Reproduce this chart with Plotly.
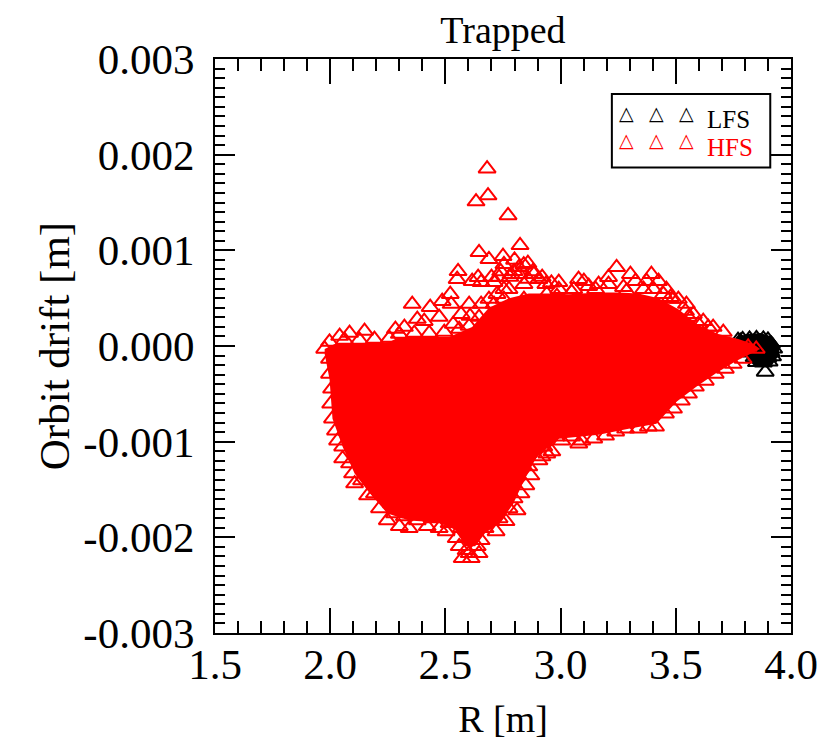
import plotly.graph_objects as go

# HFS dense core (centres of the packed triangles)
hfs_top_r = [1.976, 2.019, 2.257, 2.300, 2.516, 2.616, 2.689, 2.776, 2.862, 2.949, 3.035,
             3.165, 3.252, 3.338, 3.425, 3.511, 3.598, 3.684, 3.771, 3.836, 3.866]
hfs_top = [-0.031e-3, 0.021e-3, 0.042e-3, 0.094e-3, 0.094e-3, 0.198e-3, 0.400e-3, 0.500e-3,
           0.550e-3, 0.550e-3, 0.540e-3, 0.560e-3, 0.560e-3, 0.550e-3, 0.500e-3, 0.385e-3,
           0.219e-3, 0.125e-3, 0.073e-3, 0.021e-3, -0.031e-3]
hfs_bot_r = [1.976, 1.997, 2.010, 2.054, 2.106, 2.162, 2.248, 2.343, 2.473, 2.547, 2.586, 2.629,
             2.672, 2.733, 2.793, 2.841, 2.897, 2.992, 3.165, 3.295, 3.416, 3.503, 3.589, 3.676,
             3.762, 3.849]
hfs_bot = [-0.083e-3, -0.344e-3, -0.760e-3, -1.052e-3, -1.333e-3, -1.510e-3, -1.750e-3,
           -1.823e-3, -1.844e-3, -1.927e-3, -2.094e-3, -2.094e-3, -1.958e-3, -1.854e-3,
           -1.656e-3, -1.406e-3, -1.156e-3, -0.969e-3, -0.927e-3, -0.865e-3, -0.813e-3,
           -0.583e-3, -0.427e-3, -0.281e-3, -0.156e-3, -0.052e-3]

# HFS single triangles (outliers and the ragged edges)
hfs_r = [2.681, 2.685, 2.633, 2.772, 2.824, 2.646, 2.689, 2.750, 2.858, 2.555, 2.551, 2.356,
         2.434, 2.378, 2.486, 2.521, 2.525, 2.642, 2.655, 2.616, 2.733, 2.283, 2.041, 2.534,
         2.607, 2.655, 2.936, 2.984, 3.243, 3.394, 3.325, 3.048, 3.122, 3.165, 3.477, 3.542,
         3.598, 2.798, 2.884, 2.841, 2.754, 2.711, 2.992, 3.078, 3.208, 3.286, 3.360, 3.425,
         3.446, 3.511, 3.555, 3.641, 3.706,
         2.754, 2.785, 2.819, 2.906, 2.940, 2.724, 2.776, 2.841, 2.689, 2.603, 2.568, 2.473,
         2.408, 2.322, 2.149, 2.084,
         2.800, 2.840, 2.880, 2.920, 2.960, 2.820, 2.860, 2.780, 2.740, 2.700,
         2.992, 3.057, 3.101, 3.152, 3.208, 3.273, 3.303, 3.373, 3.403, 3.459, 3.490, 3.546,
         3.576, 3.619, 3.662,
         2.054, 2.054, 2.097, 2.106, 2.162, 2.248, 2.300, 2.343, 2.421, 2.503, 2.547, 2.590,
         2.612, 2.573, 2.655, 2.720, 2.763, 2.811, 2.849, 2.871, 2.919, 2.962, 3.005, 3.048,
         3.079,
         2.084, 2.136, 2.192, 2.214, 2.279, 2.322, 2.378, 2.387, 2.452, 2.473, 2.516, 2.538,
         2.568, 2.603, 2.638, 2.672, 2.689, 2.733, 2.776, 2.798, 2.828, 2.862, 2.906, 2.940,
         2.266, 2.352, 2.430, 2.495, 2.625, 2.668, 2.560, 2.603, 2.646,
         2.927, 2.979, 3.092, 3.144, 3.195, 3.239, 3.282, 3.338, 3.381, 3.412, 3.455, 3.490,
         3.524, 3.555, 3.585, 3.628, 3.671, 3.715, 3.749, 3.792,
         1.997, 1.997, 2.006, 2.002, 2.010, 2.023, 2.032, 1.976,
         1.997, 2.062, 2.127, 2.192, 2.257, 2.300, 2.365, 2.430, 2.495, 2.560, 2.603, 2.646,
         2.711, 2.754, 3.814, 3.849]
hfs_drift = [1.854e-3, 1.573e-3, 1.510e-3, 1.365e-3, 1.052e-3, 0.979e-3, 0.906e-3, 0.938e-3,
             0.865e-3, 0.781e-3, 0.698e-3, 0.438e-3, 0.406e-3, 0.281e-3, 0.469e-3, 0.542e-3,
             0.438e-3, 0.719e-3, 0.667e-3, 0.677e-3, 0.719e-3, 0.177e-3, 0.104e-3, 0.229e-3,
             0.313e-3, 0.438e-3, 0.646e-3, 0.521e-3, 0.823e-3, 0.750e-3, 0.677e-3, 0.563e-3,
             0.625e-3, 0.646e-3, 0.510e-3, 0.365e-3, 0.229e-3, 0.781e-3, 0.750e-3, 0.646e-3,
             0.594e-3, 0.667e-3, 0.594e-3, 0.698e-3, 0.646e-3, 0.573e-3, 0.594e-3, 0.677e-3,
             0.542e-3, 0.490e-3, 0.302e-3, 0.198e-3, 0.146e-3,
             0.854e-3, 0.750e-3, 0.823e-3, 0.698e-3, 0.542e-3, 0.542e-3, 0.594e-3, 0.490e-3,
             0.490e-3, 0.438e-3, 0.333e-3, 0.302e-3, 0.260e-3, 0.198e-3, 0.156e-3, 0.135e-3,
             0.900e-3, 0.850e-3, 0.780e-3, 0.720e-3, 0.660e-3, 0.750e-3, 0.700e-3, 0.720e-3,
             0.780e-3, 0.720e-3,
             0.667e-3, 0.594e-3, 0.677e-3, 0.594e-3, 0.719e-3, 0.615e-3, 0.750e-3, 0.677e-3,
             0.594e-3, 0.594e-3, 0.490e-3, 0.438e-3, 0.333e-3, 0.260e-3, 0.198e-3,
             -1.052e-3, -1.177e-3, -1.333e-3, -1.438e-3, -1.563e-3, -1.823e-3, -1.885e-3,
             -1.906e-3, -1.885e-3, -1.938e-3, -2.010e-3, -2.135e-3, -2.219e-3, -2.219e-3,
             -2.031e-3, -1.938e-3, -1.833e-3, -1.719e-3, -1.458e-3, -1.354e-3, -1.156e-3,
             -1.104e-3, -0.990e-3, -0.948e-3, -1.021e-3,
             -1.229e-3, -1.406e-3, -1.542e-3, -1.698e-3, -1.750e-3, -1.781e-3, -1.823e-3,
             -1.719e-3, -1.802e-3, -1.906e-3, -1.854e-3, -1.750e-3, -1.906e-3, -2.010e-3,
             -2.094e-3, -1.906e-3, -1.823e-3, -1.802e-3, -1.698e-3, -1.594e-3, -1.542e-3,
             -1.260e-3, -1.198e-3, -1.125e-3,
             -1.646e-3, -1.698e-3, -1.698e-3, -1.750e-3, -1.802e-3, -1.719e-3, -2.094e-3,
             -2.167e-3, -2.167e-3,
             -1.052e-3, -0.948e-3, -0.990e-3, -0.969e-3, -0.938e-3, -0.896e-3, -0.865e-3,
             -0.865e-3, -0.844e-3, -0.844e-3, -0.708e-3, -0.656e-3, -0.573e-3, -0.500e-3,
             -0.427e-3, -0.365e-3, -0.292e-3, -0.240e-3, -0.188e-3, -0.135e-3,
             -0.135e-3, -0.292e-3, -0.448e-3, -0.604e-3, -0.760e-3, -0.885e-3, -0.990e-3,
             -0.031e-3,
             0.042e-3, 0.063e-3, 0.063e-3, 0.073e-3, 0.083e-3, 0.125e-3, 0.135e-3, 0.135e-3,
             0.146e-3, 0.177e-3, 0.208e-3, 0.302e-3, 0.438e-3, 0.490e-3, -0.010e-3, -0.031e-3]

# LFS particles: packed blob outline plus single triangles
lfs_core_r = [3.762, 3.814, 3.870, 3.922, 3.948, 3.948, 3.918, 3.844, 3.814, 3.779]
lfs_core = [0.094e-3, 0.125e-3, 0.135e-3, 0.094e-3, 0.010e-3, -0.094e-3, -0.198e-3,
            -0.219e-3, -0.135e-3, -0.010e-3]
lfs_r = [3.770, 3.780, 3.790, 3.820, 3.850, 3.880, 3.900,
         3.800, 3.830, 3.860, 3.890, 3.915,
         3.810, 3.840, 3.870, 3.900, 3.925,
         3.830, 3.860, 3.890, 3.915,
         3.840, 3.870, 3.900, 3.920,
         3.850, 3.880, 3.905,
         3.888]
lfs_drift = [0.060e-3, 0.050e-3, 0.070e-3, 0.075e-3, 0.080e-3, 0.075e-3, 0.065e-3,
             0.030e-3, 0.030e-3, 0.035e-3, 0.030e-3, 0.020e-3,
             -0.020e-3, -0.020e-3, -0.020e-3, -0.020e-3, -0.030e-3,
             -0.070e-3, -0.070e-3, -0.070e-3, -0.070e-3,
             -0.120e-3, -0.120e-3, -0.120e-3, -0.110e-3,
             -0.170e-3, -0.175e-3, -0.165e-3,
             -0.271e-3]

x_ticks = [1.5, 2.0, 2.5, 3.0, 3.5, 4.0]
y_ticks = [-0.003, -0.002, -0.001, 0.0, 0.001, 0.002, 0.003]
y_labels = ["-0.003", "-0.002", "-0.001", "0.000", "0.001", "0.002", "0.003"]

serif = "Liberation Serif, Times New Roman, serif"
red = "#ff0000"

fig = go.Figure()

fig.add_trace(go.Scatter(x=lfs_core_r, y=lfs_core, mode="lines", fill="toself",
                         fillcolor="black", line=dict(width=0, color="black"),
                         showlegend=False))
fig.add_trace(go.Scatter(x=lfs_r, y=lfs_drift, mode="markers",
                         marker=dict(symbol="triangle-up-open", size=15, color="black",
                                     line=dict(width=2, color="black")),
                         showlegend=False))

# packed region: polygon from upper and lower envelope
core_x = hfs_top_r + hfs_bot_r[::-1]
core_y = hfs_top + hfs_bot[::-1]
fig.add_trace(go.Scatter(x=core_x, y=core_y, mode="lines", fill="toself",
                         fillcolor=red, line=dict(width=0, color=red), showlegend=False))

fig.add_trace(go.Scatter(x=hfs_r, y=hfs_drift, mode="markers",
                         marker=dict(symbol="triangle-up-open", size=15, color=red,
                                     line=dict(width=2, color=red)),
                         showlegend=False))

axis_common = dict(showline=True, linewidth=2, linecolor="black", mirror="ticks",
                   ticks="inside", tickwidth=2, tickcolor="black", showgrid=False,
                   zeroline=False, tickfont=dict(family=serif, size=43, color="black"))

fig.update_xaxes(range=[1.5, 4.0], tickvals=x_ticks, ticktext=["%.1f" % v for v in x_ticks],
                 ticklen=25, ticklabelstandoff=-8,
                 minor=dict(dtick=0.1, ticks="inside", ticklen=12, tickwidth=2,
                            tickcolor="black"),
                 title=dict(text="R [m]", standoff=19,
                            font=dict(family=serif, size=38, color="black")),
                 **axis_common)
fig.update_yaxes(range=[-0.003, 0.003], tickvals=y_ticks, ticktext=y_labels,
                 ticklen=20, ticklabelstandoff=10,
                 minor=dict(dtick=0.0001, ticks="inside", ticklen=10, tickwidth=2,
                            tickcolor="black"),
                 title=dict(text="Orbit drift [m]", standoff=0,
                            font=dict(family=serif, size=43, color="black")),
                 **axis_common)

# legend box drawn by hand (three symbols per entry)
fig.add_shape(type="rect", xref="paper", yref="paper", x0=0.689, x1=0.964, y0=0.811, y1=0.939,
              line=dict(color="black", width=2), fillcolor="white", layer="above")
for lx in [0.731, 0.783, 0.835]:
    fig.add_annotation(x=lx, y=0.928, xref="paper", yref="paper", text="△", showarrow=False,
                       font=dict(family="DejaVu Sans", size=19, color="black"))
    fig.add_annotation(x=lx, y=0.881, xref="paper", yref="paper", text="△", showarrow=False,
                       font=dict(family="DejaVu Sans", size=19, color=red))
fig.add_annotation(x=0.851, y=0.921, xref="paper", yref="paper", text="LFS", showarrow=False,
                   xanchor="left", font=dict(family=serif, size=25, color="black"))
fig.add_annotation(x=0.851, y=0.872, xref="paper", yref="paper", text="HFS", showarrow=False,
                   xanchor="left", font=dict(family=serif, size=25, color=red))

fig.update_layout(width=822, height=737, plot_bgcolor="white", paper_bgcolor="white",
                  margin=dict(l=207, r=29, t=51, b=102),
                  title=dict(text="Trapped", x=0.5, xref="paper", y=0.970, yref="container",
                             yanchor="middle", font=dict(family=serif, size=38, color="black")))

fig.write_html("out.html")
